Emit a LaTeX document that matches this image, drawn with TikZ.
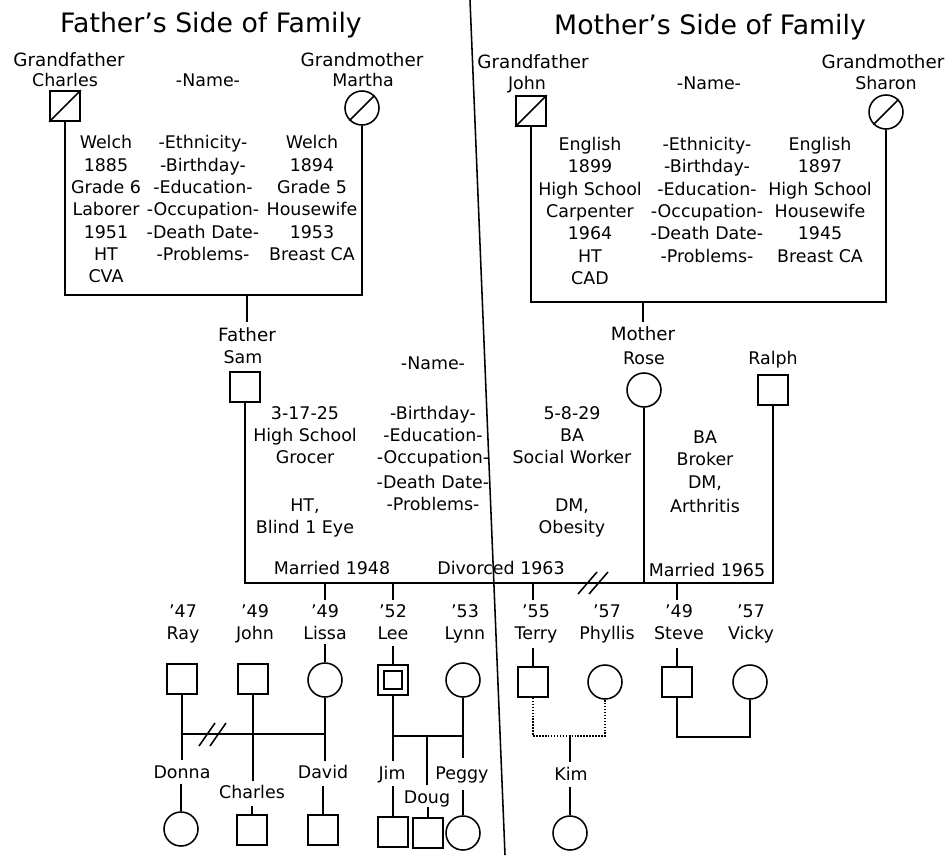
\documentclass[tikz,border=0pt]{standalone}
\usepackage{fontspec}
\setmainfont{DejaVu Sans}
\usetikzlibrary{positioning}

\begin{document}
\begin{tikzpicture}[x=0.025cm,y=-0.025cm,
    line width=1.1pt,
    ttl/.style={font=\fontsize{19}{22}\selectfont, inner sep=0pt, text height=13.5pt, text depth=0pt},
    lbl/.style={font=\fontsize{13}{15}\selectfont, inner sep=0pt, text height=9.5pt, text depth=0pt},
    dat/.style={font=\fontsize{12.4}{15}\selectfont, inner sep=0pt, text height=9pt, text depth=0pt},
    sq/.style={draw, minimum size=0.75cm, inner sep=0pt},
    cir/.style={draw, circle, minimum size=0.85cm, inner sep=0pt}]

    \fill[white] (0,0) rectangle (952,855);
    \useasboundingbox (0,0) rectangle (952,855);

    % Trennlinie
    \coordinate (divtop) at (470,0);
    \coordinate (divbot) at (505,855);
    \draw (divtop) -- (divbot);

    % Titel
    \node[ttl] (ftitle) at (211,23) {Father's Side of Family};
    \node[ttl] (mtitle) at (710,25) {Mother's Side of Family};

    % Grosseltern vaeterlicherseits
    \node[lbl] (fgflbl) at (69,60) {Grandfather};
    \node[dat] (fgfnm) at (65,80) {Charles};
    \node[dat] (fname) at (208,80) {-Name-};
    \node[lbl] (fgmlbl) at (362,60) {Grandmother};
    \node[dat] (fgmnm) at (363,80) {Martha};
    \node[sq] (gfc) at (65,106) {};
    \draw (gfc.south west) -- (gfc.north east);
    \node[cir] (gmm) at (362,108) {};
    \draw (gmm.225) -- (gmm.45);

    \foreach \t [count=\i] in {Welch,1885,Grade 6,Laborer,1951,HT,CVA}
        \node[dat] (fl\i) at (106,{142.5+22.3*(\i-1)}) {\t};
    \foreach \t [count=\i] in {-Ethnicity-,-Birthday-,-Education-,-Occupation-,-Death Date-,-Problems-}
        \node[dat] (fm\i) at (203,{142.5+22.3*(\i-1)}) {\t};
    \foreach \t [count=\i] in {Welch,1894,Grade 5,Housewife,1953,Breast CA}
        \node[dat] (fr\i) at (312,{142.5+22.3*(\i-1)}) {\t};

    \coordinate (fbase) at (247,295);
    \draw (gfc.south) |- (fbase) -| (gmm.south);
    \draw (fbase) -- ++(0,27);

    % Grosseltern muetterlicherseits
    \node[lbl] (mgflbl) at (533,62) {Grandfather};
    \node[dat] (mgfnm) at (527,83) {John};
    \node[dat] (mname) at (709,83) {-Name-};
    \node[lbl] (mgmlbl) at (883,62) {Grandmother};
    \node[dat] (mgmnm) at (886,83) {Sharon};
    \node[sq] (gfj) at (531,111) {};
    \draw (gfj.south west) -- (gfj.north east);
    \node[cir] (gms) at (886,112) {};
    \draw (gms.225) -- (gms.45);

    \foreach \t [count=\i] in {English,1899,High School,Carpenter,1964,HT,CAD}
        \node[dat] (ml\i) at (590,{144+22.4*(\i-1)}) {\t};
    \foreach \t [count=\i] in {-Ethnicity-,-Birthday-,-Education-,-Occupation-,-Death Date-,-Problems-}
        \node[dat] (mm\i) at (707,{144+22.4*(\i-1)}) {\t};
    \foreach \t [count=\i] in {English,1897,High School,Housewife,1945,Breast CA}
        \node[dat] (mr\i) at (820,{144+22.4*(\i-1)}) {\t};

    \coordinate (mbase) at (643,302);
    \draw (gfj.south) |- (mbase) -| (gms.south);
    \draw (mbase) -- ++(0,20);

    % Eltern
    \node[lbl] (fatherlbl) at (247,335) {Father};
    \node[dat] (samnm) at (243,357) {Sam};
    \node[sq] (sam) at (245,387) {};
    \node[dat] (pname) at (433,363) {-Name-};
    \node[lbl] (motherlbl) at (643,334) {Mother};
    \node[dat] (rosenm) at (644,358) {Rose};
    \node[cir] (rose) at (644,390) {};
    \node[dat] (ralphnm) at (773,358) {Ralph};
    \node[sq] (ralph) at (773,390) {};

    \foreach \t/\y [count=\i] in {3-17-25/413,High School/435,Grocer/457,{HT,}/505,Blind 1 Eye/527}
        \node[dat] (samtx\i) at (305,\y) {\t};
    \foreach \t/\y [count=\i] in {-Birthday-/413,-Education-/435,-Occupation-/457,-Death Date-/482,-Problems-/504}
        \node[dat] (ptx\i) at (433,\y) {\t};
    \foreach \t/\y [count=\i] in {5-8-29/413,BA/435,Social Worker/457,{DM,}/505,Obesity/527}
        \node[dat] (rosetx\i) at (572,\y) {\t};
    \foreach \t/\y [count=\i] in {BA/437,Broker/459,{DM,}/482,Arthritis/506}
        \node[dat] (ralphtx\i) at (705,\y) {\t};

    \node[dat] (m48) at (332,568) {Married 1948};
    \node[dat] (d63) at (501,568) {Divorced 1963};
    \node[dat] (m65) at (707,570) {Married 1965};

    \coordinate (marr) at (773,583);
    \draw (sam.south) |- (marr) -- (ralph.south);
    \draw (rose.south) -- (rose.south |- marr);
    % Scheidung
    \draw (578,594) -- (597,572) (589,594) -- (608,572);

    % Kinder
    \foreach \nm/\yr/\x [count=\i] in {Ray/'47/183,John/'49/255,Lissa/'49/325,Lee/'52/393,Lynn/'53/465,Terry/'55/536,Phyllis/'57/607,Steve/'49/679,Vicky/'57/751}
    {
        \node[dat] (yr\i) at (\x,611) {\yr};
        \node[dat] (nm\i) at (\x,633) {\nm};
    }
    \node[sq] (ray) at (182,679) {};
    \node[sq] (john) at (253,679) {};
    \node[cir] (lissa) at (325,680) {};
    \node[sq] (lee) at (393,680) {};
    \node[sq, minimum size=0.45cm] (leein) at (lee) {};
    \node[cir] (lynn) at (463,680) {};
    \node[sq] (terry) at (533,682) {};
    \node[cir] (phyllis) at (605,682) {};
    \node[sq] (steve) at (677,682) {};
    \node[cir] (vicky) at (750,682) {};

    \foreach \k in {lissa,lee,terry,steve}
    {
        \draw (\k |- marr) -- ++(0,17);
        \draw (\k.north) -- ++(0,-18);
    }

    % Enkel: Ray und Lissa
    \coordinate (rl) at (182,734);
    \draw (ray.south) -- ++(0,65);
    \draw (rl) -- (lissa.south |- rl);
    \draw (john.south) -- ++(0,86);
    \draw (lissa.south) -- ++(0,63);
    \draw (199,746) -- (215,723) (210,746) -- (226,723);

    \node[dat] (donnanm) at (182,772) {Donna};
    \node[cir] (donna) at (181,829) {};
    \draw (donna.north) -- ++(0,-27);
    \node[dat] (charlesnm) at (252,792) {Charles};
    \node[sq] (charles) at (252,830) {};
    \draw (charles.north) -- ++(0,-8);
    \node[dat] (davidnm) at (323,772) {David};
    \node[sq] (david) at (323,830) {};
    \draw (david.north) -- ++(0,-28);

    % Enkel: Lee und Lynn
    \coordinate (ll) at (427,736);
    \draw (lee.south) -- ++(0,65);
    \draw (lee.south |- ll) -- (lynn.south |- ll);
    \draw (lynn.south) -- ++(0,60);
    \draw (ll) -- ++(0,49);
    \node[dat] (jimnm) at (392,773) {Jim};
    \node[dat] (dougnm) at (427,797) {Doug};
    \node[dat] (peggynm) at (462,773) {Peggy};
    \node[sq] (jim) at (393,832) {};
    \node[sq] (doug) at (428,833) {};
    \node[cir] (peggy) at (463,833) {};
    \draw (jim.north) -- ++(0,-30);
    \draw (doug.north) -- ++(0,-10);
    \draw (peggy.north) -- ++(0,-25);

    % Terry und Phyllis
    \coordinate (tp) at (570,736);
    \draw[densely dotted] (terry.south) |- (tp) -| (phyllis.south);
    \draw (tp) -- ++(0,26);
    \node[dat] (kimnm) at (571,774) {Kim};
    \node[cir] (kim) at (570,833) {};
    \draw (kim.north) -- ++(0,-28);

    % Steve und Vicky
    \coordinate (sv) at (714,737);
    \draw (steve.south) |- (sv) -| (vicky.south);
\end{tikzpicture}
\end{document}
